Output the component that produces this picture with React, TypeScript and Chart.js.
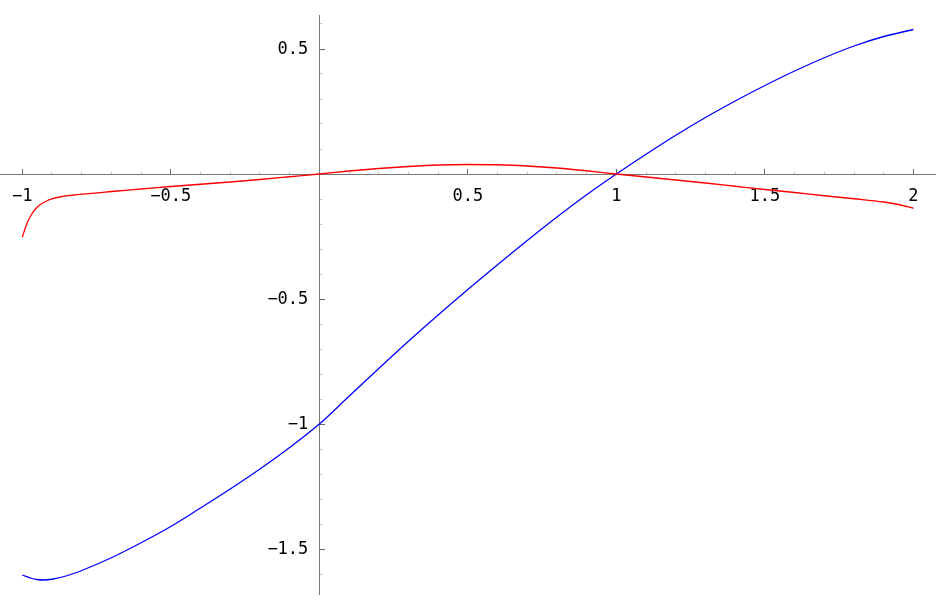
import React, { useEffect, useRef } from "react";
import { Chart, registerables } from "chart.js";

Chart.register(...registerables);

// Blue curve samples
const blueX = [-1, -0.97, -0.95, -0.93, -0.9, -0.85, -0.8, -0.7, -0.6, -0.5, -0.4, -0.3, -0.2, -0.1, 0, 0.1, 0.2, 0.3, 0.4, 0.5, 0.6, 0.7, 0.8, 0.9, 1.0, 1.1, 1.2, 1.3, 1.4, 1.5, 1.6, 1.7, 1.8, 1.9, 2.0];
const blueY = [-1.604, -1.617, -1.622, -1.624, -1.621, -1.607, -1.586, -1.535, -1.475, -1.41, -1.336, -1.26, -1.18, -1.094, -1.0, -0.889, -0.778, -0.669, -0.564, -0.462, -0.363, -0.266, -0.172, -0.083, 0, 0.079, 0.155, 0.226, 0.292, 0.354, 0.412, 0.465, 0.512, 0.550, 0.578];

// Red curve samples
const redX = [-1, -0.985, -0.97, -0.955, -0.94, -0.92, -0.9, -0.87, -0.84, -0.8, -0.7, -0.6, -0.5, -0.4, -0.3, -0.2, -0.1, 0, 0.1, 0.2, 0.3, 0.4, 0.5, 0.6, 0.7, 0.8, 0.9, 1.0, 1.1, 1.2, 1.3, 1.4, 1.5, 1.6, 1.7, 1.8, 1.9, 1.95, 2.0];
const redY = [-0.253, -0.2, -0.164, -0.139, -0.123, -0.109, -0.0995, -0.091, -0.086, -0.0807, -0.07, -0.06, -0.05, -0.041, -0.032, -0.022, -0.011, 0, 0.012, 0.022, 0.03, 0.036, 0.038, 0.037, 0.032, 0.024, 0.013, 0, -0.012, -0.024, -0.036, -0.049, -0.062, -0.074, -0.087, -0.099, -0.112, -0.122, -0.137];

const xRange = [-1.075, 2.076];
const yRange = [-1.68, 0.636];
const tickStep = 0.1;
const labelStep = 0.5;

const isMajor = (v: number) => Math.abs(v / labelStep - Math.round(v / labelStep)) < 1e-6;
const fmt = (v: number) => {
  if (!isMajor(v) || Math.abs(v) < 1e-9) return "";
  const r = Math.round(v * 10) / 10;
  return r.toString().replace("-", "\u2212");
};

const fontFamily = "'DejaVu Sans Mono', monospace";
const fontSize = 17;

// Draws the vertical axis' tick labels just left of the axis line, using the chart's scales.
const yLabelPlugin = {
  id: "yLabels",
  afterDraw(chart: any) {
    const ys = chart.scales.y;
    const xs = chart.scales.x;
    const ctx = chart.ctx;
    const xPix = xs.getPixelForValue(0) - 11;
    ctx.save();
    ctx.font = `${fontSize}px ${fontFamily}`;
    ctx.fillStyle = "#000000";
    ctx.textAlign = "right";
    ctx.textBaseline = "middle";
    for (const t of ys.ticks) {
      const label = fmt(t.value);
      if (label) ctx.fillText(label, xPix, ys.getPixelForValue(t.value) + 1);
    }
    ctx.restore();
  },
};

export default function App() {
  const ref = useRef<HTMLCanvasElement | null>(null);

  useEffect(() => {
    document.body.style.margin = "0";
    const canvas = ref.current!;
    const toPts = (xs: number[], ys: number[]) => xs.map((x, i) => ({ x, y: ys[i] }));
    const tickColor = (ctx: any) => (ctx.tick && isMajor(ctx.tick.value) ? "#666666" : "#c8c8c8");
    const tickDash = (ctx: any) => (ctx.tick && isMajor(ctx.tick.value) ? [] : [3.5, 50]);
    const zeroPad = (s: any) => {
      s.paddingTop = 0;
      s.paddingBottom = 0;
      s.paddingLeft = 0;
      s.paddingRight = 0;
    };
    const chart = new Chart(canvas, {
      type: "scatter",
      data: {
        datasets: [
          {
            data: toPts(redX, redY),
            showLine: true,
            borderColor: "#ff0000",
            borderWidth: 1.3,
            pointRadius: 0,
            cubicInterpolationMode: "monotone",
          },
          {
            data: toPts(blueX, blueY),
            showLine: true,
            borderColor: "#0000ff",
            borderWidth: 1.3,
            pointRadius: 0,
            cubicInterpolationMode: "monotone",
          },
        ],
      },
      options: {
        animation: false,
        responsive: false,
        maintainAspectRatio: false,
        layout: { padding: { top: 15, bottom: 9, left: 0, right: 0 } },
        plugins: { legend: { display: false }, tooltip: { enabled: false } },
        scales: {
          x: {
            type: "linear",
            min: xRange[0],
            max: xRange[1],
            position: { y: 0 } as any,
            afterFit: zeroPad,
            border: { display: true, color: "#777777", width: 1 },
            grid: {
              drawOnChartArea: false,
              drawTicks: true,
              tickLength: -6,
              tickColor,
              tickBorderDash: tickDash as any,
              tickWidth: 1,
            },
            ticks: {
              stepSize: tickStep,
              includeBounds: false,
              autoSkip: false,
              maxRotation: 0,
              padding: 18,
              color: "#000000",
              font: { family: fontFamily, size: fontSize },
              callback: (v: any) => fmt(Number(v)),
            },
          },
          y: {
            type: "linear",
            min: yRange[0],
            max: yRange[1],
            position: { x: 0 } as any,
            afterFit: zeroPad,
            border: { display: true, color: "#777777", width: 1 },
            grid: {
              drawOnChartArea: false,
              drawTicks: true,
              tickLength: -6,
              tickColor,
              tickBorderDash: tickDash as any,
              tickWidth: 1,
            },
            ticks: {
              display: false,
              stepSize: tickStep,
              includeBounds: false,
              autoSkip: false,
              callback: (v: any) => fmt(Number(v)),
            },
          },
        },
      },
      plugins: [yLabelPlugin],
    } as any);
    return () => chart.destroy();
  }, []);

  return (
    <div style={{ position: "absolute", left: 0, top: 0, width: 936, height: 603, background: "#ffffff" }}>
      <canvas ref={ref} width={936} height={603} style={{ width: 936, height: 603, display: "block" }} />
    </div>
  );
}
